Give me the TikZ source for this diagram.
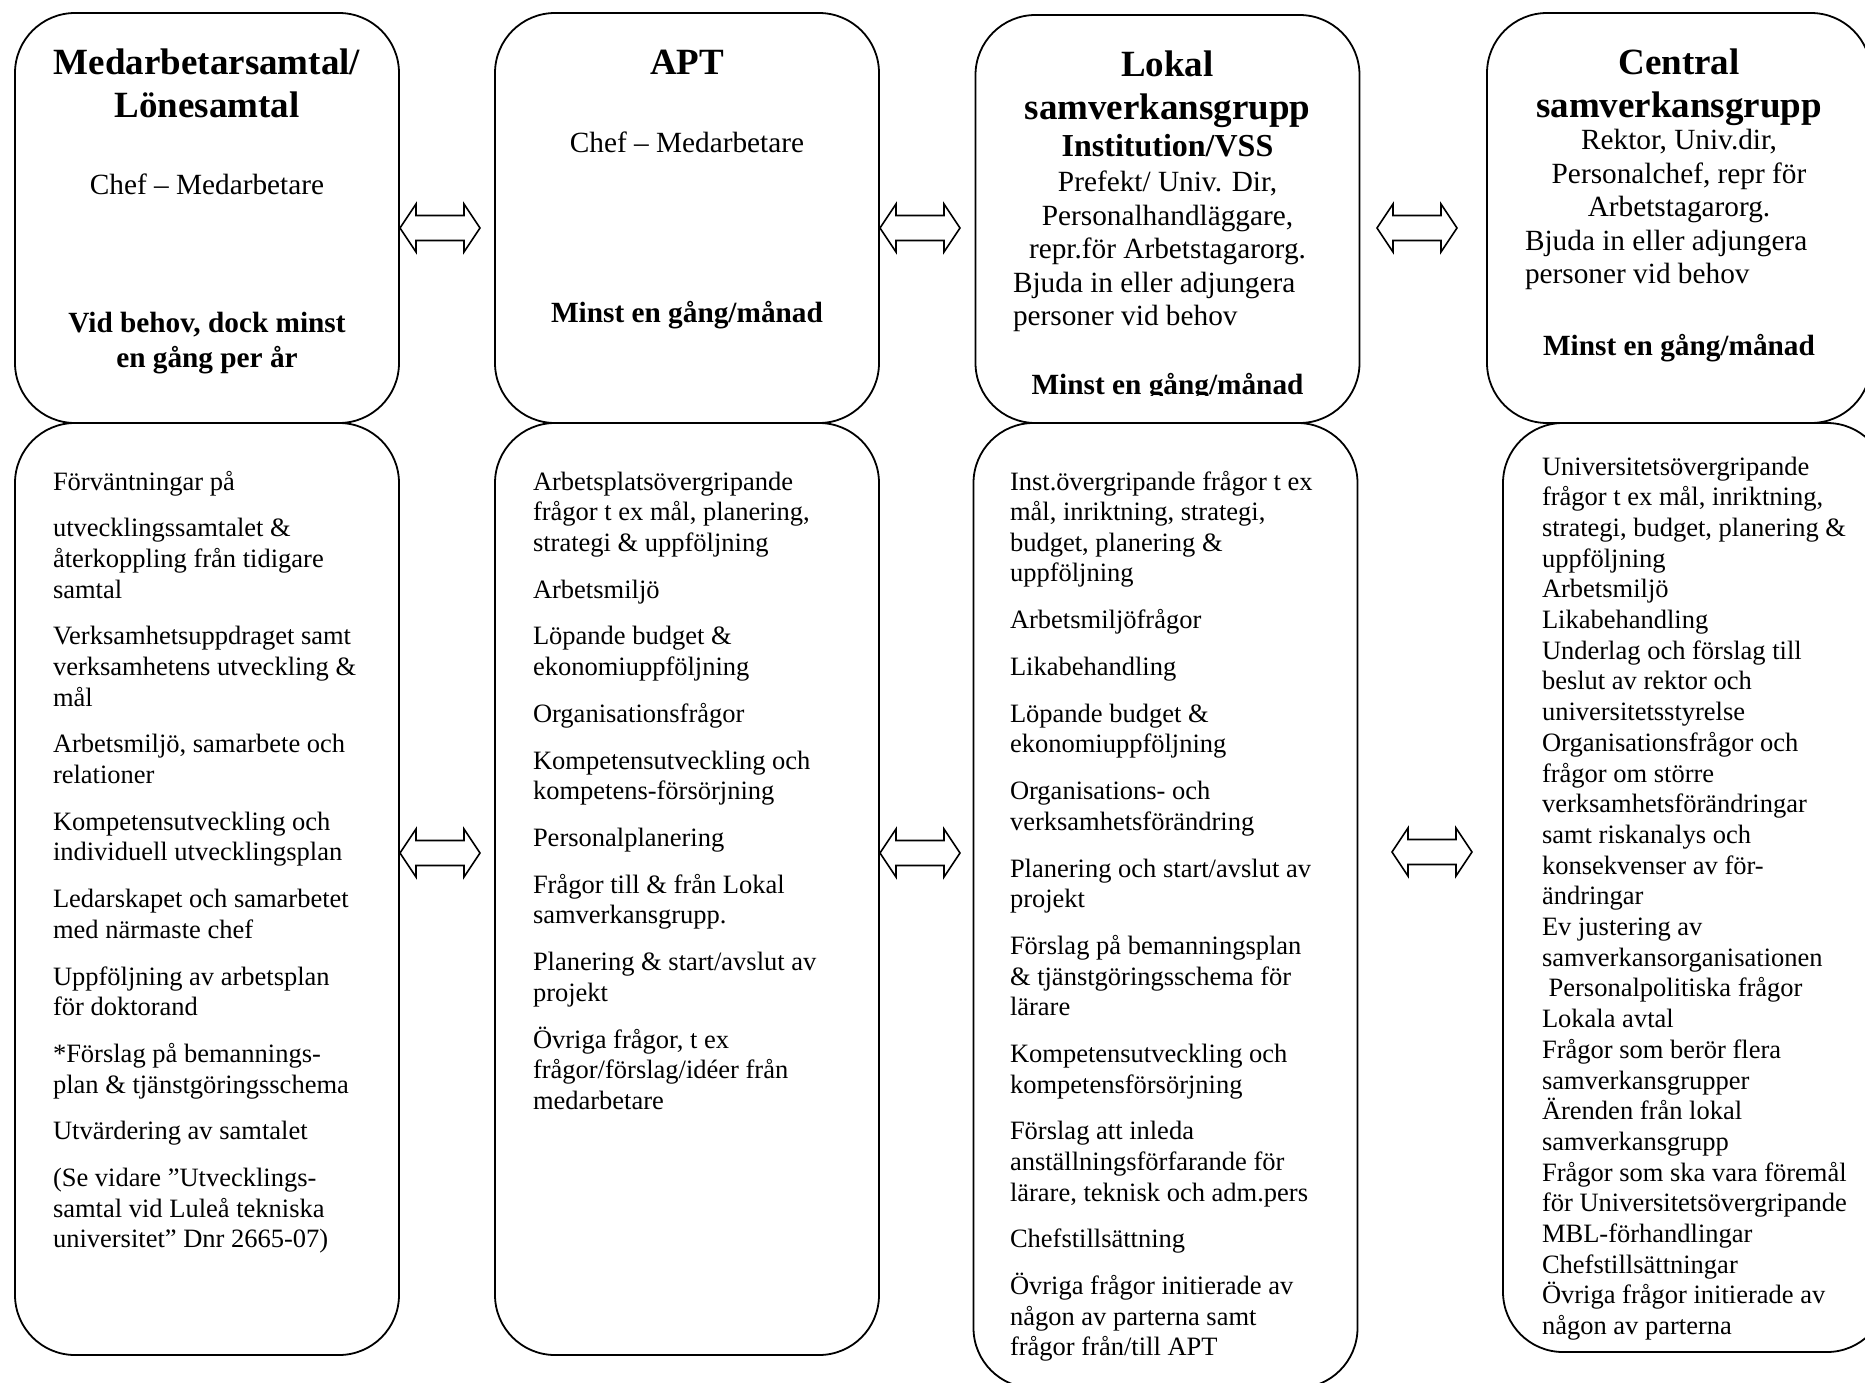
\documentclass[tikz,border=0pt]{standalone}
\usepackage{fontspec}
\setmainfont{Liberation Serif}[Ligatures={TeX,NoCommon}]
\tikzset{
  box/.style={draw=black, line width=1.8pt, rounded corners=60pt, minimum width=384pt, inner sep=0pt},
  txt/.style={inner sep=0pt, outer sep=0pt, anchor=base west},
  dblline/.style={draw=black, line width=1.6pt, fill=white, line join=miter},
  pics/dblarrow/.style={code={
    \path[dblline] (-40,0) -- (-24,-24) -- (-24,-12.5) -- (24,-12.5) -- (24,-24) -- (40,0)
      -- (24,24) -- (24,12.5) -- (-24,12.5) -- (-24,24) -- cycle;}}
}
\newcommand\ftitle{\fontsize{37}{42.6}\bfseries\selectfont}
\newcommand\fsub{\fontsize{29.3}{33.3}\selectfont}
\newcommand\fsubb{\fontsize{29.3}{35}\bfseries\selectfont}
\newcommand\finst{\fontsize{32}{36}\bfseries\selectfont}
\newcommand\fbody{\fontsize{26.5}{30.6}\selectfont}
\newcommand\fbodyb{\fontsize{26.5}{30.7}\selectfont}
\newcommand\gp{\vskip16.2pt}
\newcommand\cblock[2]{\vtop{\hsize=#1\parindent=0pt\parskip=0pt\leftskip=0pt plus 1fil\rightskip=0pt plus 1fil\parfillskip=0pt #2}}
\newcommand\lblock[2]{\vtop{\hsize=#1\parindent=0pt\parskip=0pt\leftskip=0pt\rightskip=0pt #2}}
\begin{document}
\begin{tikzpicture}[x=1pt,y=-1pt]
\useasboundingbox (0,0) rectangle (1865,1383);
\clip (0,0) rectangle (1865,1383);

% top boxes
\node[box, minimum height=410pt] (t1) at (207,218) {};
\node[box, minimum height=410pt] (t2) at (687,218) {};
\node[box, minimum height=408pt] (t3) at (1167.5,219) {};
\node[box, minimum height=410pt] (t4) at (1679,218) {};

% bottom boxes
\node[box, minimum height=932pt] (b1) at (207,889) {};
\node[box, minimum height=932pt] (b2) at (687,889) {};
\node[box, minimum height=965pt] (b3) at (1165.5,905.5) {};
\node[box, minimum height=929pt] (b4) at (1695,887.5) {};

% arrows
\coordinate (a1) at (440,228);
\coordinate (a2) at (920,228);
\coordinate (a3) at (1417,228);
\coordinate (a4) at (440,853);
\coordinate (a5) at (920,853);
\coordinate (a6) at (1432,852);
\pic at (a1) {dblarrow};
\pic at (a2) {dblarrow};
\pic at (a3) {dblarrow};
\pic at (a4) {dblarrow};
\pic at (a5) {dblarrow};
\pic at (a6) {dblarrow};

% top box 1
\node[txt] (t1a) at (15,75) {\cblock{384pt}{\ftitle Medarbetarsamtal/\par Lönesamtal\par}};
\node[txt] (t1b) at (15,195) {\cblock{384pt}{\fsub Chef – Medarbetare\par}};
\node[txt] (t1c) at (15,332) {\cblock{384pt}{\fsubb Vid behov, dock minst\par en gång per år\par}};

% top box 2
\node[txt] (t2a) at (495,75) {\cblock{384pt}{\ftitle APT\par}};
\node[txt] (t2b) at (495,153) {\cblock{384pt}{\fsub Chef – Medarbetare\par}};
\node[txt] (t2c) at (495,322) {\cblock{384pt}{\fsubb Minst en gång/månad\par}};

% top box 3
\node[txt] (t3a) at (975,77) {\cblock{385pt}{\ftitle Lokal\par samverkansgrupp\par}};
\node[txt] (t3b) at (975,157) {\cblock{385pt}{\finst Institution/VSS\par}};
\node[txt] (t3c) at (975,192) {\cblock{385pt}{\fsub Prefekt/ Univ. Dir,\par Personalhandläggare,\par repr.för Arbetstagarorg.\par}};
\node[txt] (t3d) at (1013,292) {\lblock{340pt}{\fsub Bjuda in eller adjungera\par personer vid behov\par}};
\begin{scope}
  \clip (975,350) rectangle (1360,395.5);
  \node[txt] (t3e) at (975,394) {\cblock{385pt}{\fsubb Minst en gång/månad\par}};
\end{scope}

% top box 4
\node[txt] (t4a) at (1487,75) {\cblock{384pt}{\ftitle Central\par samverkansgrupp\par}};
\node[txt] (t4c) at (1487,150) {\cblock{384pt}{\fsub Rektor, Univ.dir,\par Personalchef, repr för\par Arbetstagarorg.\par}};
\node[txt] (t4d) at (1525,250) {\lblock{340pt}{\fsub Bjuda in eller adjungera\par personer vid behov\par}};
\node[txt] (t4e) at (1487,355) {\cblock{384pt}{\fsubb Minst en gång/månad\par}};

% bottom box 1
\node[txt] (b1t) at (53,490) {\lblock{340pt}{\fbody
Förväntningar på\par\gp
utvecklingssamtalet \&\par
återkoppling från tidigare\par
samtal\par\gp
Verksamhetsuppdraget samt\par
verksamhetens utveckling \&\par
mål\par\gp
Arbetsmiljö, samarbete och\par
relationer\par\gp
Kompetensutveckling och\par
individuell utvecklingsplan\par\gp
Ledarskapet och samarbetet\par
med närmaste chef\par\gp
Uppföljning av arbetsplan\par
för doktorand\par\gp
*Förslag på bemannings-\par
plan \& tjänstgöringsschema\par\gp
Utvärdering av samtalet\par\gp
(Se vidare ”Utvecklings-\par
samtal vid Luleå tekniska\par
universitet” Dnr 2665-07)\par}};

% bottom box 2
\node[txt] (b2t) at (533,490) {\lblock{340pt}{\fbody
Arbetsplatsövergripande\par
frågor t ex mål, planering,\par
strategi \& uppföljning\par\gp
Arbetsmiljö\par\gp
Löpande budget \&\par
ekonomiuppföljning\par\gp
Organisationsfrågor\par\gp
Kompetensutveckling och\par
kompetens-försörjning\par\gp
Personalplanering\par\gp
Frågor till \& från Lokal\par
samverkansgrupp.\par\gp
Planering \& start/avslut av\par
projekt\par\gp
Övriga frågor, t ex\par
frågor/förslag/idéer från\par
medarbetare\par}};

% bottom box 3
\node[txt] (b3t) at (1010,490) {\lblock{340pt}{\fbody
Inst.övergripande frågor t ex\par
mål, inriktning, strategi,\par
budget, planering \&\par
uppföljning\par\gp
Arbetsmiljöfrågor\par\gp
Likabehandling\par\gp
Löpande budget \&\par
ekonomiuppföljning\par\gp
Organisations- och\par
verksamhetsförändring\par\gp
Planering och start/avslut av\par
projekt\par\gp
Förslag på bemanningsplan\par
\& tjänstgöringsschema för\par
lärare\par\gp
Kompetensutveckling och\par
kompetensförsörjning\par\gp
Förslag att inleda\par
anställningsförfarande för\par
lärare, teknisk och adm.pers\par\gp
Chefstillsättning\par\gp
Övriga frågor initierade av\par
någon av parterna samt\par
frågor från/till APT\par}};

% bottom box 4
\node[txt] (b4t) at (1542,475) {\lblock{340pt}{\fbodyb
Universitetsövergripande\par
frågor t ex mål, inriktning,\par
strategi, budget, planering \&\par
uppföljning\par
Arbetsmiljö\par
Likabehandling\par
Underlag och förslag till\par
beslut av rektor och\par
universitetsstyrelse\par
Organisationsfrågor och\par
frågor om större\par
verksamhetsförändringar\par
samt riskanalys och\par
konsekvenser av för-\par
ändringar\par
Ev justering av\par
samverkansorganisationen\par
\hspace*{6.6pt}Personalpolitiska frågor\par
Lokala avtal\par
Frågor som berör flera\par
samverkansgrupper\par
Ärenden från lokal\par
samverkansgrupp\par
Frågor som ska vara föremål\par
för Universitetsövergripande\par
MBL-förhandlingar\par
Chefstillsättningar\par
Övriga frågor initierade av\par
någon av parterna\par}};
\end{tikzpicture}
\end{document}
